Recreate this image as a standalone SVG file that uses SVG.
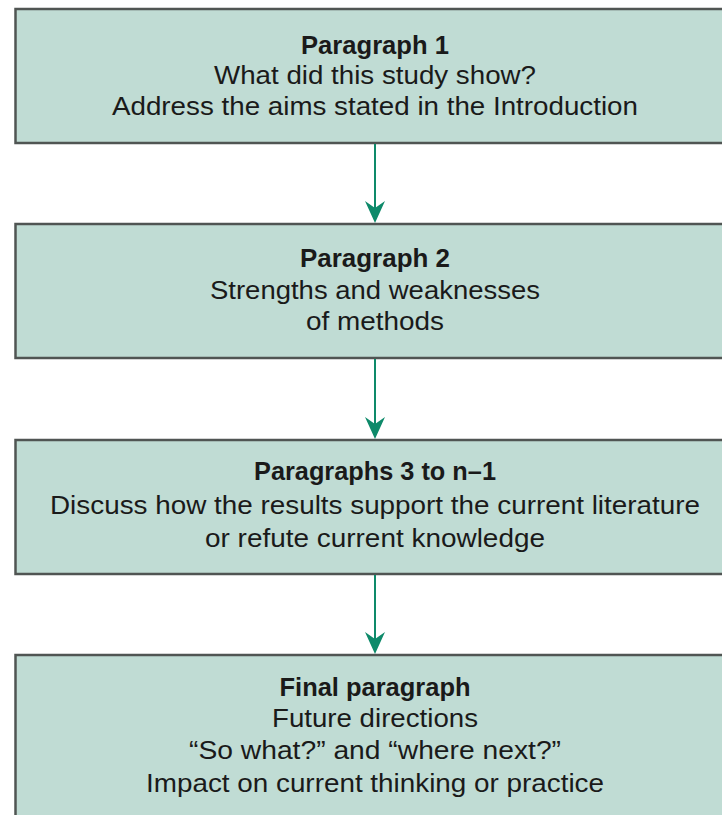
<svg xmlns="http://www.w3.org/2000/svg" width="722" height="815" viewBox="0 0 722 815">
<style>
.box{fill:#c0dcd4;stroke:#505553;stroke-width:2.5}
.t{font-family:"Liberation Sans",Arial,sans-serif;font-size:26px;fill:#1a1a1a;text-anchor:middle}
.b{font-weight:bold}
.c{stroke:#0e8a6a;stroke-width:2;fill:none}
.h{fill:#0e8a6a}
</style>
<rect width="722" height="815" fill="#ffffff"/>
<g id="node1">
<rect class="box" x="15.5" y="9" width="730" height="134"/>
<text class="t b" x="375" y="54" textLength="148" lengthAdjust="spacingAndGlyphs">Paragraph 1</text>
<text class="t" x="375" y="84" textLength="322" lengthAdjust="spacingAndGlyphs">What did this study show?</text>
<text class="t" x="375" y="115" textLength="526" lengthAdjust="spacingAndGlyphs">Address the aims stated in the Introduction</text>
</g>
<g id="node2">
<rect class="box" x="15.5" y="224" width="730" height="134"/>
<text class="t b" x="375" y="267" textLength="150" lengthAdjust="spacingAndGlyphs">Paragraph 2</text>
<text class="t" x="375" y="299" textLength="330" lengthAdjust="spacingAndGlyphs">Strengths and weaknesses</text>
<text class="t" x="375" y="330" textLength="138" lengthAdjust="spacingAndGlyphs">of methods</text>
</g>
<g id="node3">
<rect class="box" x="15.5" y="440" width="730" height="134"/>
<text class="t b" x="375" y="480" textLength="242" lengthAdjust="spacingAndGlyphs">Paragraphs 3 to n–1</text>
<text class="t" x="375" y="514" textLength="650" lengthAdjust="spacingAndGlyphs">Discuss how the results support the current literature</text>
<text class="t" x="375" y="547" textLength="340" lengthAdjust="spacingAndGlyphs">or refute current knowledge</text>
</g>
<g id="node4">
<rect class="box" x="15.5" y="655" width="730" height="200"/>
<text class="t b" x="375" y="696" textLength="191" lengthAdjust="spacingAndGlyphs">Final paragraph</text>
<text class="t" x="375" y="727" textLength="206" lengthAdjust="spacingAndGlyphs">Future directions</text>
<text class="t" x="375" y="759" textLength="372" lengthAdjust="spacingAndGlyphs">“So what?” and “where next?”</text>
<text class="t" x="375" y="792" textLength="458" lengthAdjust="spacingAndGlyphs">Impact on current thinking or practice</text>
</g>
<g id="connectors">
<line class="c" x1="375" y1="144" x2="375" y2="212"/>
<path class="h" d="M375 223 L365 201 L375 208 L385 201 Z"/>
<line class="c" x1="375" y1="359" x2="375" y2="428"/>
<path class="h" d="M375 439 L365 417 L375 424 L385 417 Z"/>
<line class="c" x1="375" y1="575" x2="375" y2="643"/>
<path class="h" d="M375 654 L365 632 L375 639 L385 632 Z"/>
</g>
</svg>
